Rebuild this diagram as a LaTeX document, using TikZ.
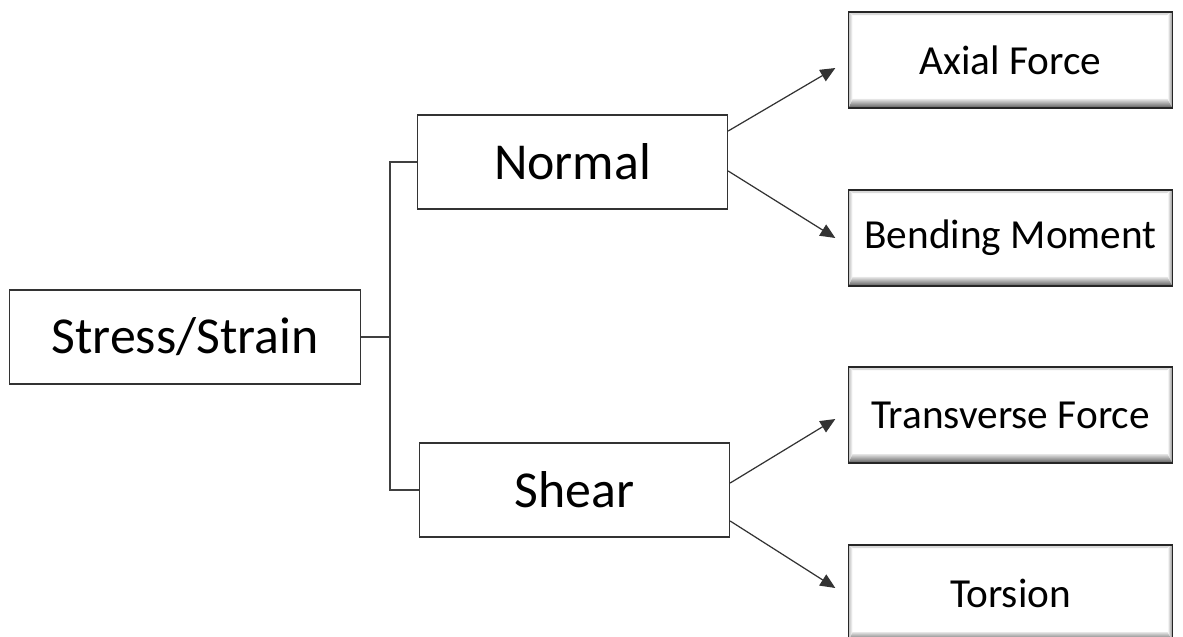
\documentclass[tikz,border=0pt]{standalone}
\usepackage{fontspec}
\setmainfont{Carlito}
\usepackage{tikz}
\usetikzlibrary{arrows.meta, positioning, calc}

\begin{document}
\begin{tikzpicture}[
        x=0.02cm, y=-0.02cm,
        topic/.style={rectangle, draw=black!80, line width=0.8pt, fill=white, inner sep=0pt, minimum height=1.88cm, font=\fontsize{29.5}{34}\selectfont},
        case/.style={rectangle, draw=black!85, line width=0.8pt, fill=white, inner sep=0pt, minimum width=6.48cm, minimum height=1.92cm, font=\fontsize{23.5}{28}\selectfont,
            path picture={
                \fill[top color=black!15, bottom color=white] (path picture bounding box.north west) -- (path picture bounding box.north east) -- ([xshift=-0.1cm,yshift=-0.06cm]path picture bounding box.north east) -- ([xshift=0.08cm,yshift=-0.06cm]path picture bounding box.north west) -- cycle;
                \fill[left color=black!25, right color=white] (path picture bounding box.north west) -- ([xshift=0.08cm,yshift=-0.06cm]path picture bounding box.north west) -- ([xshift=0.08cm,yshift=0.16cm]path picture bounding box.south west) -- (path picture bounding box.south west) -- cycle;
                \fill[left color=white, right color=black!45] (path picture bounding box.north east) -- ([xshift=-0.1cm,yshift=-0.06cm]path picture bounding box.north east) -- ([xshift=-0.1cm,yshift=0.16cm]path picture bounding box.south east) -- (path picture bounding box.south east) -- cycle;
                \fill[top color=black!10, bottom color=black!65] ([xshift=0.08cm,yshift=0.18cm]path picture bounding box.south west) -- ([xshift=-0.1cm,yshift=0.18cm]path picture bounding box.south east) -- (path picture bounding box.south east) -- (path picture bounding box.south west) -- cycle;
            }},
        link/.style={draw=black!75, line width=0.8pt},
        arr/.style={draw=black!80, line width=0.7pt, -{Triangle[length=0.3cm, width=0.26cm]}}
    ]
        \useasboundingbox (0,0) rectangle (1183,636);

        \node[topic, minimum width=7.02cm] (stress) at (185,337) {Stress/Strain};
        \node[topic, minimum width=6.2cm] (normal) at (572.5,162) {Normal};
        \node[topic, minimum width=6.2cm] (shear) at (574.5,490) {Shear};

        \node[case] (axial) at (1010.5,60) {Axial Force};
        \node[case] (bending) at (1010.5,238) {Bending Moment};
        \node[case] (transverse) at (1010.5,415) {Transverse Force};
        \node[case] (torsion) at (1010.5,593) {Torsion};

        % fork from the main box
        \draw[link] (stress.east) -- ++(0.58cm,0) coordinate (fork);
        \draw[link] (fork) |- (normal.west);
        \draw[link] (fork) |- (shear.west);

        % arrows to the load cases
        \draw[arr] ([yshift=0.62cm]normal.east) -- ([xshift=-0.25cm,yshift=-0.16cm]axial.west);
        \draw[arr] ([yshift=-0.18cm]normal.east) -- ([xshift=-0.25cm]bending.west);
        \draw[arr] ([yshift=0.14cm]shear.east) -- ([xshift=-0.25cm,yshift=-0.08cm]transverse.west);
        \draw[arr] ([yshift=-0.62cm]shear.east) -- ([xshift=-0.25cm,yshift=0.1cm]torsion.west);
    \end{tikzpicture}
\end{document}
